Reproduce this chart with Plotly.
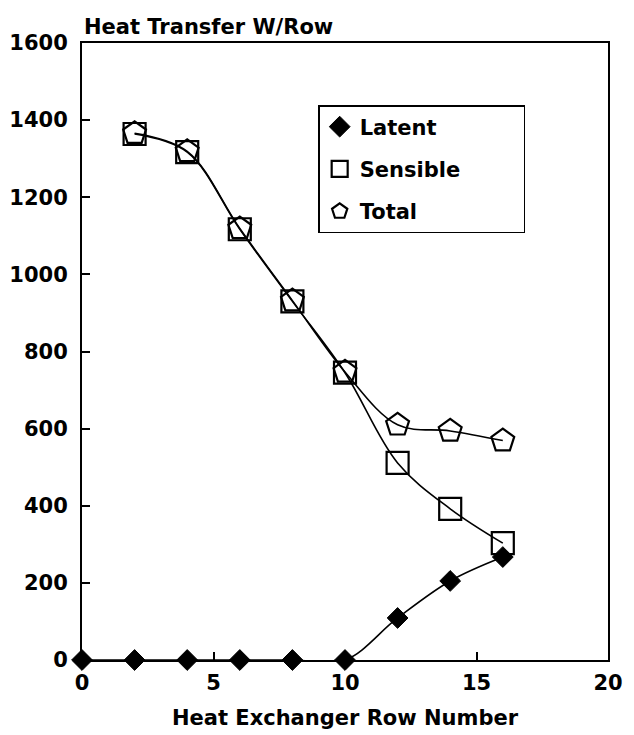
import plotly.graph_objects as go

rows_latent = [0, 2, 4, 6, 8, 10, 12, 14, 16]
latent = [0, 0, 0, 0, 0, 0, 109, 205, 267]
rows = [2, 4, 6, 8, 10, 12, 14, 16]
sensible = [1364, 1317, 1117, 930, 745, 511, 392, 303]
total = [1366, 1319, 1119, 932, 747, 610, 594, 569]
series_names = ["Latent", "Sensible", "Total"]

x_ticks = [0, 5, 10, 15, 20]
y_ticks = [0, 200, 400, 600, 800, 1000, 1200, 1400, 1600]

FONT = "DejaVu Sans, sans-serif"
line_style = dict(color="black", width=1.6, shape="spline", smoothing=1)

markers = [
    dict(symbol="diamond", size=16, color="black",
         line=dict(color="black", width=1)),
    dict(symbol="square-open", size=22, color="black",
         line=dict(color="black", width=2.2)),
    dict(symbol="pentagon-open", size=24, color="black",
         line=dict(color="black", width=2.2)),
]
xs = [rows_latent, rows, rows]
ys = [latent, sensible, total]

fig = go.Figure()
for name, x, y, m in zip(series_names, xs, ys, markers):
    fig.add_trace(go.Scatter(
        x=x, y=y, name=name, mode="lines+markers", line=line_style,
        marker=m, cliponaxis=False, showlegend=False,
    ))
# legend entries (symbols only, like the original)
for i, (name, m) in enumerate(zip(series_names, markers)):
    label = name + ("\u00a0" * 8 if name == "Sensible" else "")
    fig.add_trace(go.Scatter(
        x=[None], y=[None], name=label, mode="markers", marker=m,
        legendgroup=str(i), showlegend=True,
    ))

fig.update_layout(
    width=634, height=735,
    margin=dict(l=82, r=26, t=43, b=75),
    paper_bgcolor="white", plot_bgcolor="white",
    font=dict(family=FONT, size=21, color="black", weight="bold"),
    showlegend=True,
    legend=dict(
        x=0.449, y=0.8995, xanchor="left", yanchor="top",
        bgcolor="white", bordercolor="black", borderwidth=1.5,
        font=dict(family=FONT, size=21, color="black", weight="bold"),
        tracegroupgap=12, itemwidth=30,
    ),
    xaxis=dict(
        range=[0, 20], tickvals=x_ticks, ticks="inside", ticklen=8,
        tickwidth=1.5, tickcolor="black", showline=True, linecolor="black",
        linewidth=2, mirror=True, showgrid=False, zeroline=False,
        ticklabelstandoff=3, automargin=False,
        title=dict(text="Heat Exchanger Row Number", standoff=16,
                   font=dict(family=FONT, size=21, weight="bold")),
        tickfont=dict(family=FONT, size=21, weight="bold"),
    ),
    yaxis=dict(
        range=[0, 1600], tickvals=y_ticks, ticks="inside", ticklen=8,
        tickwidth=1.5, tickcolor="black", showline=True, linecolor="black",
        linewidth=2, mirror=True, showgrid=False, zeroline=False,
        ticklabelstandoff=8, automargin=False,
        tickfont=dict(family=FONT, size=21, weight="bold"),
    ),
    annotations=[dict(
        text="Heat Transfer W/Row", xref="paper", yref="paper",
        x=0, y=1, xanchor="left", yanchor="bottom", yshift=2,
        showarrow=False,
        font=dict(family=FONT, size=21, color="black", weight="bold"),
    )],
)

fig.write_html("out.html")
